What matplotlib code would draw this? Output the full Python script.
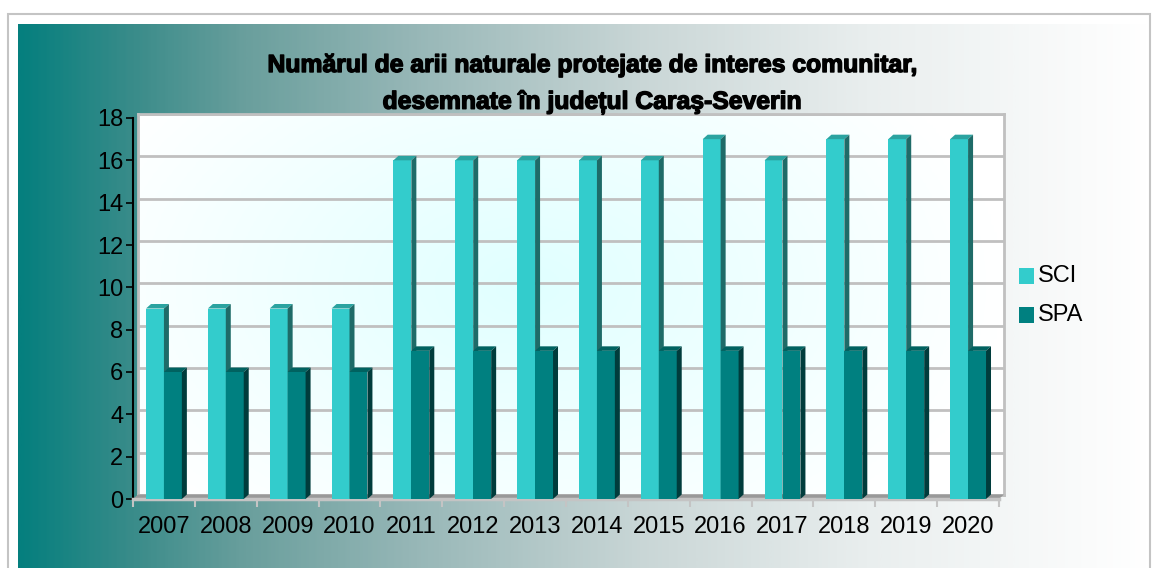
import numpy as np
import matplotlib.pyplot as plt
import matplotlib.patheffects as pe
from matplotlib.patches import Polygon, Rectangle
from matplotlib.colors import LinearSegmentedColormap

# Date
ani = ["2007", "2008", "2009", "2010", "2011", "2012", "2013",
       "2014", "2015", "2016", "2017", "2018", "2019", "2020"]
sci = [9, 9, 9, 9, 16, 16, 16, 16, 16, 17, 16, 17, 17, 17]
spa = [6, 6, 6, 6, 7, 7, 7, 7, 7, 7, 7, 7, 7, 7]
serii = ["SCI", "SPA"]

titlu1 = "Numărul de arii naturale protejate de interes comunitar,"
titlu2 = "desemnate în județul Caraş-Severin"

plt.rcParams["font.family"] = ["Liberation Sans", "DejaVu Sans"]

W, H = 1158, 568
fig = plt.figure(figsize=(W / 100, H / 100), dpi=100)


def box(l, t, r, b):
    return [l / W, 1 - b / H, (r - l) / W, (b - t) / H]


# fundal cu gradient (teal -> alb)
bg = fig.add_axes(box(18, 24, 1150, 568))
cmap_bg = LinearSegmentedColormap.from_list(
    "bg", [(0, "#057f7e"), (0.1, "#3a8c8a"), (0.2, "#6a9f9d"), (0.35, "#97b7b7"),
           (0.55, "#c9d6d6"), (0.75, "#e9eeee"), (1, "#ffffff")])
bg.imshow(np.linspace(0, 1, 400)[None, :], aspect="auto", cmap=cmap_bg,
          extent=[0, 1, 0, 1])
bg.axis("off")

fig.patches.append(Rectangle((8 / W, -0.01), 1142 / W, 1 - 14 / H + 0.01,
                             transform=fig.transFigure, fill=False,
                             edgecolor="#c4c4c4", linewidth=1.5))

# peretele din spate
wall = fig.add_axes(box(138, 114, 1004, 495))
xx, yy = np.meshgrid(np.linspace(0, 1, 300), np.linspace(0, 1, 150))
dist = np.sqrt(((xx - 0.45) / 0.55) ** 2 + ((yy - 0.55) / 0.8) ** 2)
cmap_w = LinearSegmentedColormap.from_list("w", ["#e0ffff", "#ffffff"])
wall.imshow(np.clip(dist, 0, 1), aspect="auto", cmap=cmap_w,
            extent=[0, 1, 0, 18], origin="lower")
wall.set_xlim(0, 1)
wall.set_ylim(0, 18)
for v in range(0, 19, 2):
    wall.axhline(v, color="#c0c0c0", linewidth=2)
for s in wall.spines.values():
    s.set_color("#c0c0c0")
    s.set_linewidth(2)
wall.set_xticks([])
wall.set_yticks([])

# axa principala
ax = fig.add_axes(box(133, 118, 999, 499))
ax.set_facecolor("none")
x = np.arange(len(ani))
w = 0.29
ax.set_xlim(-0.5, len(ani) - 0.5)
ax.set_ylim(0, 18)
dx = 5 / 61.9
dy = 4.5 / 21.17

# podea
ax.add_patch(Polygon([(-0.5, 0), (len(ani) - 0.5, 0),
                      (len(ani) - 0.5 + dx, dy), (-0.5 + dx, dy)],
                     closed=True, facecolor="#999999", edgecolor="none",
                     clip_on=False, zorder=1))

culori = {"SCI": ("#33cccc", "#2ba3a0", "#1e6b68"),
          "SPA": ("#008080", "#006260", "#003c3c")}

for nume, vals, off in [("SCI", sci, -w), ("SPA", spa, 0.0)]:
    fata, sus, lat = culori[nume]
    bars = ax.bar(x + off, vals, width=w, align="edge", color=fata,
                  zorder=3, clip_on=False, label=nume)
    for b in bars:
        x0, h = b.get_x(), b.get_height()
        ax.add_patch(Polygon([(x0, h), (x0 + w, h), (x0 + w + dx, h + dy),
                              (x0 + dx, h + dy)], closed=True, facecolor=sus,
                             edgecolor="none", zorder=3, clip_on=False))
        ax.add_patch(Polygon([(x0 + w, 0), (x0 + w + dx, dy),
                              (x0 + w + dx, h + dy), (x0 + w, h)], closed=True,
                             facecolor=lat, edgecolor="none", zorder=3,
                             clip_on=False))

ax.spines["top"].set_visible(False)
ax.spines["right"].set_visible(False)
ax.spines["left"].set_color("black")
ax.spines["left"].set_linewidth(1.5)
ax.spines["bottom"].set_color("#c4c4c4")
ax.spines["bottom"].set_linewidth(2.5)

ax.set_yticks(range(0, 19, 2))
ax.tick_params(axis="y", length=5, width=1.2, color="black",
               labelsize=17, pad=2)
ax.set_xticks(x)
ax.set_xticklabels(ani)
ax.set_xticks(np.arange(-0.5, len(ani), 1), minor=True)
ax.tick_params(axis="x", which="major", length=0, labelsize=17, pad=12)
ax.tick_params(axis="x", which="minor", length=6, width=1.5, color="#c4c4c4")

# legenda
for i, nume in enumerate(serii):
    yc = 276 + i * 39
    fig.patches.append(Rectangle((1019 / W, 1 - (yc + 8) / H), 15 / W, 16 / H,
                                 transform=fig.transFigure,
                                 facecolor=culori[nume][0], edgecolor="none"))
    fig.text(1038 / W, 1 - yc / H, nume, fontsize=17, va="center", ha="left")

# titlu (mai gros, ca in original)
contur = [pe.withStroke(linewidth=1.0, foreground="black")]
fig.text(592 / W, 1 - 65 / H, titlu1, fontsize=17.8, fontweight="bold",
         ha="center", va="center", path_effects=contur)
fig.text(592 / W, 1 - 102 / H, titlu2, fontsize=17.8, fontweight="bold",
         ha="center", va="center", path_effects=contur)

plt.savefig("out.png", dpi=100)
